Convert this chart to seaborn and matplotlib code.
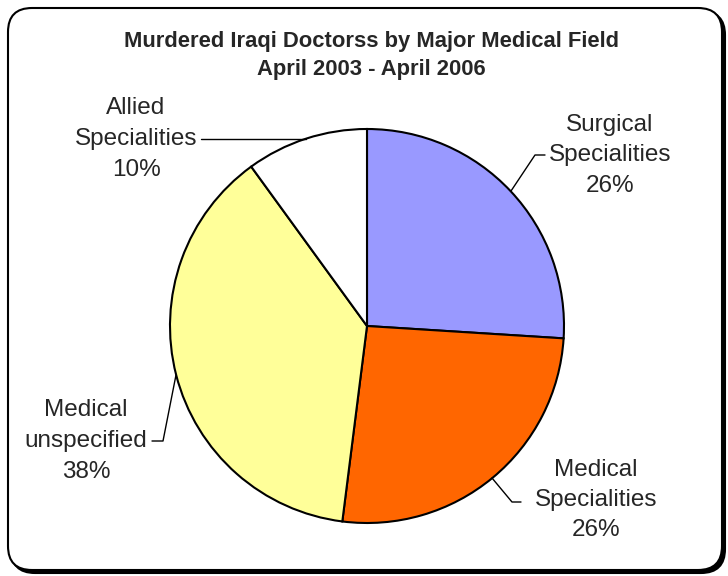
import matplotlib
matplotlib.use("Agg")
import matplotlib.pyplot as plt
from matplotlib.patches import FancyBboxPatch
import seaborn as sns

labels = ["Surgical\nSpecialities", "Medical\nSpecialities",
          "Medical\nunspecified", "Allied\nSpecialities"]
shares = [26, 26, 38, 10]
colors = ["#9999FF", "#FF6600", "#FFFF99", "#FFFFFF"]

sns.set_theme(style="white")
plt.rcParams['font.family'] = ['Liberation Sans', 'DejaVu Sans']

fig = plt.figure(figsize=(7.28, 5.76), dpi=100)
ax = fig.add_axes([0, 0, 1, 1])

# chart frame with a small shadow
shadow = FancyBboxPatch((11, 3), 714, 562, boxstyle="round,pad=0,rounding_size=24",
                        fc="black", ec="black", lw=1.5, zorder=0)
frame = FancyBboxPatch((8, 6), 714, 562, boxstyle="round,pad=0,rounding_size=24",
                       fc="white", ec="black", lw=1.5, zorder=1)
ax.add_patch(shadow)
ax.add_patch(frame)

cx, cy, r = 367, 250, 197
wedges, _ = ax.pie(shares, colors=sns.color_palette(colors), startangle=90,
                   counterclock=False, center=(cx, cy), radius=r,
                   wedgeprops=dict(edgecolor="black", linewidth=1.5),
                   frame=True)
for w in wedges:
    w.set_zorder(3)
ax.set_xlim(0, 728)
ax.set_ylim(0, 576)
ax.set_aspect('equal')
ax.axis('off')

# label positions (text centre) and leader line points
text_pos = [(610, 421), (596, 76), (86, 135), (136, 437)]
leaders = [
    [(545, 421), (535, 421), (511, 385)],
    [(492, 98), (512, 74), (521, 74)],
    [(152, 135), (163, 135), (176, 201)],
    [(201, 437), (306, 437)],
]
for lab, s, (tx, ty), pts in zip(labels, shares, text_pos, leaders):
    ax.text(tx, ty, f"{lab}\n{s}%", ha="center", va="center", fontsize=17.5,
            linespacing=1.5, zorder=5)
    xs, ys = zip(*pts)
    ax.plot(xs, ys, color="black", lw=1, zorder=4)

ax.text(371, 535, "Murdered Iraqi Doctorss by Major Medical Field",
        ha="center", va="center", fontsize=15.8, fontweight="bold", zorder=5)
ax.text(371, 507, "April 2003 - April 2006",
        ha="center", va="center", fontsize=15.8, fontweight="bold", zorder=5)

fig.savefig("out.png", dpi=100)
